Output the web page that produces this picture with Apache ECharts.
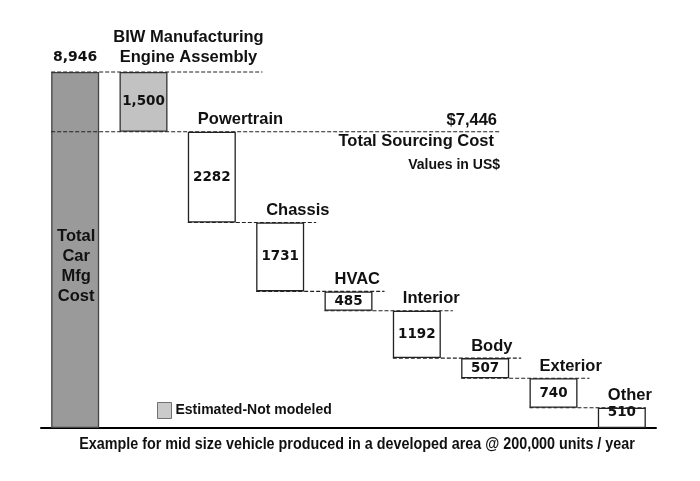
<!DOCTYPE html>
<html><head><meta charset="utf-8">
<script src="https://cdn.jsdelivr.net/npm/echarts@6/dist/echarts.min.js"></script>
<style>html,body{margin:0;padding:0;background:#fff}#c{width:700px;height:481px}</style>
</head><body><div id="c"></div>
<script>
// ---- data ----
const categories = ['Total Car Mfg Cost','BIW Manufacturing Engine Assembly','Powertrain','Chassis','HVAC','Interior','Body','Exterior','Other'];
const categoryLabels = ['Total\nCar\nMfg\nCost','BIW Manufacturing\nEngine Assembly','Powertrain','Chassis','HVAC','Interior','Body','Exterior','Other'];
const values = [8946, 1500, 2282, 1731, 485, 1192, 507, 740, 510];
const valueLabels = ['8,946', '1,500', '2282', '1731', '485', '1192', '507', '740', '510'];
const barKinds = ['total', 'estimated', 'modeled', 'modeled', 'modeled', 'modeled', 'modeled', 'modeled', 'modeled'];
const sourcingTotal = 7446;
const sourcingLabels = ['$7,446', 'Total Sourcing Cost', 'Values in US$'];
const legendLabel = 'Estimated-Not modeled';
const footnote = 'Example for mid size vehicle produced in a developed area @ 200,000 units / year';

// ---- derived waterfall levels ----
const tops = [], bases = [];
values.forEach((v, i) => {
  if (i === 0) { tops.push(v); bases.push(0); }
  else {
    const t = i === 1 ? values[0] : bases[i - 1];
    tops.push(t); bases.push(Math.max(0, t - v));
  }
});
const connectors = [[0, 1, tops[0]]];
for (let i = 2; i < values.length - 1; i++) connectors.push([i, i + 1, bases[i]]);

const FONT = '"Liberation Sans", Arial, sans-serif';
const NUMFONT = '"DejaVu Sans", sans-serif';
const BARW = 48;
const DASH = { stroke: '#222', lineWidth: 1.1, lineDash: [4, 2] };
const fills = { total: '#9a9a9a', estimated: '#c2c2c2', modeled: '#ffffff' };
const borders = { total: '#444', estimated: '#333', modeled: '#222' };

const chart = echarts.init(document.getElementById('c'), null, { renderer: 'canvas' });
chart.setOption({
  animation: false,
  grid: { left: 41, right: 44, top: 72, bottom: 53 },
  xAxis: {
    type: 'category', data: categories,
    axisLine: { show: true, lineStyle: { color: '#000', width: 2 } },
    axisTick: { show: false }, axisLabel: { show: false }, splitLine: { show: false }
  },
  yAxis: { type: 'value', min: 0, max: values[0], show: false, splitLine: { show: false } },
  legend: {
    data: [{ name: legendLabel, icon: 'rect', itemStyle: { color: '#bdbdbd', borderColor: '#555', borderWidth: 1 } }],
    left: 152, top: 397, itemWidth: 14, itemHeight: 16, itemGap: 5, selectedMode: false,
    textStyle: { fontFamily: FONT, fontWeight: 'bold', fontSize: 14, color: '#111', padding: [0, 0, 0, -1] }
  },
  series: [
    { type: 'bar', stack: 'w', barWidth: BARW, silent: true, itemStyle: { color: 'transparent' }, data: bases },
    {
      type: 'bar', stack: 'w', barWidth: BARW, silent: true,
      data: values.map((v, i) => ({
        value: tops[i] - bases[i],
        itemStyle: { color: fills[barKinds[i]], borderColor: borders[barKinds[i]], borderWidth: 1.3 },
        label: {
          show: i > 0, position: 'inside', offset: i === values.length - 1 ? [0, -5] : [0, 0],
          formatter: () => valueLabels[i],
          fontFamily: NUMFONT, fontWeight: 'bold', fontSize: 13.5, color: '#111'
        }
      }))
    },
    { type: 'scatter', name: legendLabel, data: [] },
    {
      type: 'custom', z: 5, silent: true, clip: false,
      data: connectors,
      renderItem(params, api) {
        const from = api.value(0), to = api.value(1), level = api.value(2);
        const p1 = api.coord([from, level]), p2 = api.coord([to, level]);
        const ext = from === 0 ? 95 : (to === values.length - 1 ? 0 : 12);
        return {
          type: 'line',
          shape: { x1: p1[0] - BARW / 2, y1: p1[1], x2: p2[0] + BARW / 2 + ext, y2: p2[1] },
          style: DASH
        };
      }
    },
    {
      type: 'custom', z: 5, silent: true, clip: false,
      data: [[0, sourcingTotal]],
      renderItem(params, api) {
        const p = api.coord([api.value(0), api.value(1)]);
        const rx = 500;
        return {
          type: 'group', children: [
            { type: 'line', shape: { x1: p[0] - BARW / 2, y1: p[1], x2: rx, y2: p[1] }, style: DASH },
            { type: 'text', style: { text: sourcingLabels[0], x: rx - 3, y: p[1] - 11, align: 'right', verticalAlign: 'middle',
              fontFamily: FONT, fontWeight: 'bold', fontSize: 16.5, fill: '#111' } },
            { type: 'text', style: { text: sourcingLabels[1], x: rx - 6, y: p[1] + 10, align: 'right', verticalAlign: 'middle',
              fontFamily: FONT, fontWeight: 'bold', fontSize: 16.5, fill: '#111' } },
            { type: 'text', style: { text: sourcingLabels[2], x: rx, y: p[1] + 33, align: 'right', verticalAlign: 'middle',
              fontFamily: FONT, fontWeight: 'bold', fontSize: 14, fill: '#111' } }
          ]
        };
      }
    },
    {
      type: 'custom', z: 6, silent: true, clip: false,
      data: categories.map((c, i) => [i, tops[i]]),
      renderItem(params, api) {
        const i = api.value(0);
        const p = api.coord([i, api.value(1)]);
        const base = { fontFamily: FONT, fontWeight: 'bold', fontSize: 16.5, fill: '#111' };
        if (i === 0) {
          return { type: 'group', children: [
            { type: 'text', style: { text: valueLabels[0], x: p[0], y: p[1] - 14.5, align: 'center', verticalAlign: 'middle',
              fontFamily: NUMFONT, fontWeight: 'bold', fontSize: 14, fill: '#111' } },
            { type: 'text', style: Object.assign({}, base, { text: categoryLabels[0], x: p[0] + 1, y: p[1] + 154,
              align: 'center', verticalAlign: 'top', lineHeight: 20 }) }
          ] };
        }
        if (i === 1) {
          return { type: 'text', style: Object.assign({}, base, { text: categoryLabels[1], x: p[0] + 45, y: p[1] - 4.8,
            align: 'center', verticalAlign: 'bottom', lineHeight: 20 }) };
        }
        return { type: 'text', style: Object.assign({}, base, { text: categoryLabels[i], x: p[0] - BARW / 2 + 10, y: p[1] - 11.8,
          align: 'left', verticalAlign: 'middle' }) };
      }
    }
  ],
  graphic: [
    { type: 'text', x: 357, y: 444, scaleX: 0.87, silent: true,
      style: { text: footnote, align: 'center', verticalAlign: 'middle',
        fontFamily: FONT, fontWeight: 'bold', fontSize: 16.5, fill: '#111' } }
  ]
});
</script></body></html>
